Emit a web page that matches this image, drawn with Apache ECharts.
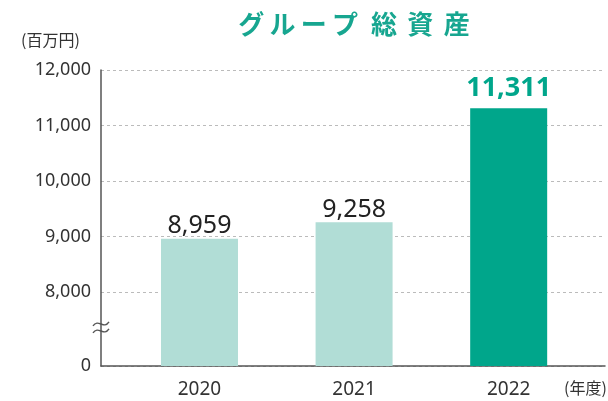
<!DOCTYPE html>
<html>
<head>
<meta charset="utf-8">
<script src="https://cdn.jsdelivr.net/npm/echarts@6/dist/echarts.min.js"></script>
<style>
  html, body { margin: 0; padding: 0; background: #fff; }
  #main { width: 608px; height: 401px; }
</style>
</head>
<body>
<div id="main"></div>
<script>
// データ
const years = [2020, 2021, 2022];
const totalAssets = [8959, 9258, 11311];
const yTicks = [8000, 9000, 10000, 11000, 12000];
const yBottom = 6667;   // 省略線の下端（0 として表示）

const FONT = '"Noto Sans CJK JP", "Noto Sans", sans-serif';
const NUM_FONT = '"Noto Sans", "Noto Sans CJK JP", sans-serif';
const lightColor = '#b1ddd6';
const darkColor = '#00a68b';

const fmt = v => String(v).replace(/\B(?=(\d{3})+(?!\d))/g, ',');

const chart = echarts.init(document.getElementById('main'));

const barData = years.map((y, i) => {
  const last = i === years.length - 1;
  return {
    value: [y, totalAssets[i]],
    itemStyle: { color: last ? darkColor : lightColor },
    label: last
      ? { color: darkColor, fontSize: 27, fontWeight: 'bold', distance: 6 }
      : { color: '#222', fontSize: 25, distance: 0 }
  };
});

const option = {
  animation: false,
  backgroundColor: '#fff',
  textStyle: { fontFamily: FONT },
  title: {
    text: 'グ\u2009ル\u2009ー\u2009プ\u2002総\u2009\u2009資\u2009\u2009産',
    left: 349,
    textAlign: 'center',
    top: 6,
    textStyle: { color: '#17a690', fontSize: 26, fontWeight: 'bold', fontFamily: FONT }
  },
  grid: { left: 101, right: 3, top: 70, bottom: 35, outerBoundsMode: 'none' },
  xAxis: {
    type: 'value',
    min: 2019.363,
    max: 2022.623,
    axisLine: { show: true, lineStyle: { color: '#555', width: 1.5 } },
    axisTick: { show: false },
    splitLine: { show: false },
    axisLabel: {
      customValues: years,
      color: '#333',
      fontSize: 19,
      margin: 14,
      fontFamily: NUM_FONT,
      formatter: v => String(v)
    }
  },
  yAxis: {
    type: 'value',
    min: yBottom,
    max: 12000,
    axisLine: { show: true, lineStyle: { color: '#555', width: 1.5 } },
    axisTick: { show: false, customValues: [yBottom].concat(yTicks) },
    axisLabel: {
      customValues: [yBottom].concat(yTicks),
      color: '#333',
      fontSize: 18,
      margin: 10,
      fontFamily: NUM_FONT,
      formatter: v => (v === yBottom ? '0' : fmt(v))
    },
    splitLine: { show: true, lineStyle: { color: '#bbb', type: [3, 3], width: 1 } }
  },
  series: [{
    type: 'bar',
    barWidth: 77,
    data: barData,
    label: {
      show: true,
      position: 'top',
      fontFamily: NUM_FONT,
      formatter: p => fmt(p.value[1])
    },
    z: 3
  }]
};

chart.setOption(option);

// 省略記号と単位
const bp = chart.convertToPixel({ xAxisIndex: 0, yAxisIndex: 0 }, [2019.363, 7370]);
chart.setOption({
  graphic: [
    {
      type: 'group',
      x: bp[0], y: bp[1], z: 10,
      children: [
        { type: 'rect', shape: { x: -3, y: -5, width: 6, height: 10 }, style: { fill: '#fff' } },
        { type: 'bezierCurve', shape: { x1: -8, y1: -1, cpx1: -3, cpy1: -9, cpx2: 3, cpy2: 3, x2: 8, y2: -5 },
          style: { stroke: '#555', lineWidth: 1.4, fill: null } },
        { type: 'bezierCurve', shape: { x1: -8, y1: 6, cpx1: -3, cpy1: -2, cpx2: 3, cpy2: 10, x2: 8, y2: 2 },
          style: { stroke: '#555', lineWidth: 1.4, fill: null } }
      ]
    },
    {
      type: 'text', left: 21, top: 32,
      style: { text: '(百万円)', fontSize: 16, fill: '#333', fontFamily: FONT }
    },
    {
      type: 'text', left: 564, top: 380,
      style: { text: '(年度)', fontSize: 16, fill: '#333', fontFamily: FONT }
    }
  ]
});
</script>
</body>
</html>
